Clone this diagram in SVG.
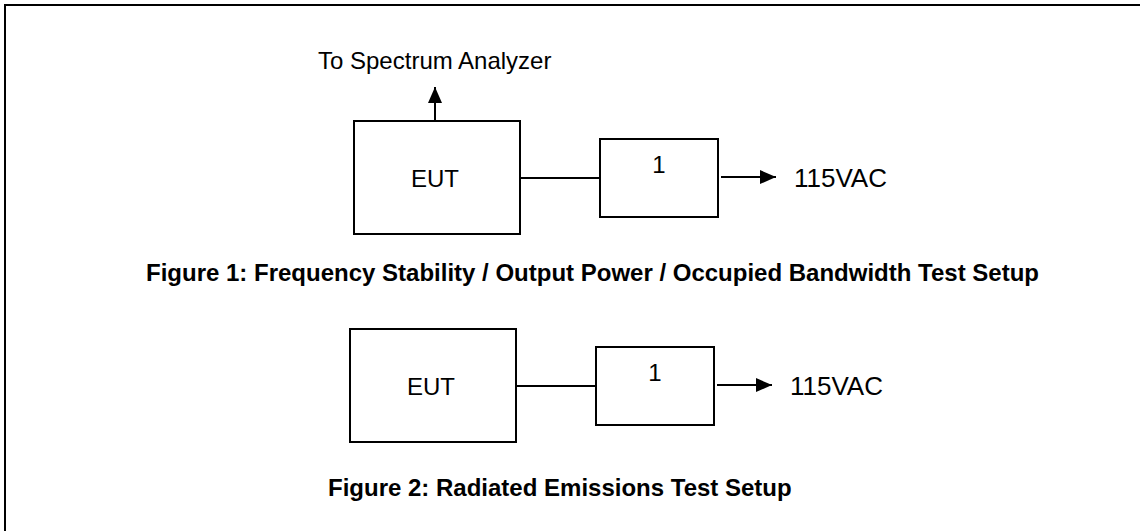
<svg xmlns="http://www.w3.org/2000/svg" width="1140" height="531" viewBox="0 0 1140 531">
<style>
.box{fill:#fff;stroke:#000;stroke-width:2}
.ln{stroke:#000;stroke-width:2;fill:none}
.t{font-family:"Liberation Sans",Arial,sans-serif;font-size:24px;fill:#000}
.big{font-size:26px}
.cap{font-family:"Liberation Sans",Arial,sans-serif;font-size:24px;font-weight:bold;fill:#000}
</style>
<defs>
<marker id="ah" markerWidth="16" markerHeight="14" refX="16" refY="7" orient="auto" markerUnits="userSpaceOnUse">
<path d="M0,0 L16,7 L0,14 Z" fill="#000"/>
</marker>
</defs>
<rect x="5" y="5" width="1160" height="560" fill="#fff" stroke="#000" stroke-width="2"/>
<g id="connectors">
<line class="ln" x1="435" y1="121" x2="435" y2="87" marker-end="url(#ah)"/>
<line class="ln" x1="520" y1="178" x2="600" y2="178"/>
<line class="ln" x1="721" y1="177" x2="776" y2="177" marker-end="url(#ah)"/>
<line class="ln" x1="516" y1="386" x2="596" y2="386"/>
<line class="ln" x1="717" y1="385" x2="772" y2="385" marker-end="url(#ah)"/>
</g>
<g id="eut1">
<rect class="box" x="354" y="121" width="166" height="113"/>
<text class="t" x="435" y="187" text-anchor="middle">EUT</text>
</g>
<g id="box1a">
<rect class="box" x="600" y="139" width="118" height="78"/>
<text class="t" x="659" y="173" text-anchor="middle">1</text>
</g>
<g id="label-spectrum">
<text class="t" x="318" y="69">To Spectrum Analyzer</text>
</g>
<g id="label-vac1">
<text class="t big" x="794" y="187">115VAC</text>
</g>
<g id="caption1">
<text class="cap" x="146" y="281">Figure 1: Frequency Stability / Output Power / Occupied Bandwidth Test Setup</text>
</g>
<g id="eut2">
<rect class="box" x="350" y="329" width="166" height="113"/>
<text class="t" x="431" y="395" text-anchor="middle">EUT</text>
</g>
<g id="box1b">
<rect class="box" x="596" y="347" width="118" height="78"/>
<text class="t" x="655" y="381" text-anchor="middle">1</text>
</g>
<g id="label-vac2">
<text class="t big" x="790" y="395">115VAC</text>
</g>
<g id="caption2">
<text class="cap" x="328" y="496">Figure 2: Radiated Emissions Test Setup</text>
</g>
</svg>
